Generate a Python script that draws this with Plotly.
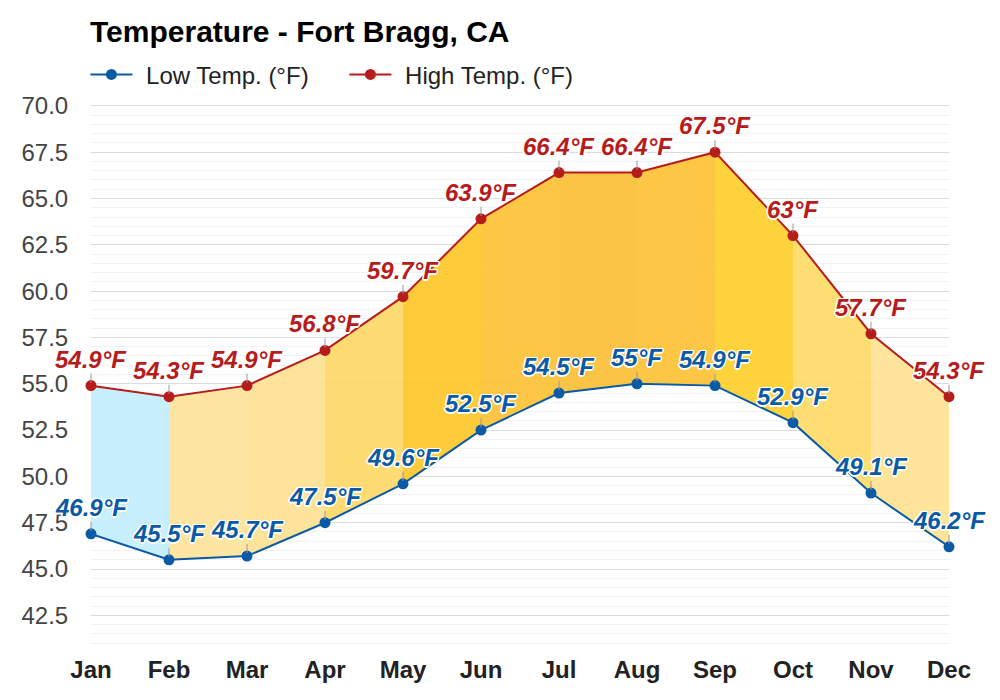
import plotly.graph_objects as go

months = ['Jan', 'Feb', 'Mar', 'Apr', 'May', 'Jun', 'Jul', 'Aug', 'Sep', 'Oct', 'Nov', 'Dec']
low_temp = [46.9, 45.5, 45.7, 47.5, 49.6, 52.5, 54.5, 55, 54.9, 52.9, 49.1, 46.2]
high_temp = [54.9, 54.3, 54.9, 56.8, 59.7, 63.9, 66.4, 66.4, 67.5, 63, 57.7, 54.3]
band_colors = ['#c4eefd', '#fee39a', '#fee193', '#fed968', '#fec82b', '#fdc336',
               '#fcc038', '#fdc336', '#fed02b', '#fedb68', '#fee393']

BLUE = '#0a5aa5'
RED = '#b71c1c'
FONT = 'Liberation Sans'
OUTLINE = '1.5px 0 0 #fff, -1.5px 0 0 #fff, 0 1.5px 0 #fff, 0 -1.5px 0 #fff, 1px 1px 0 #fff, -1px -1px 0 #fff, 1px -1px 0 #fff, -1px 1px 0 #fff'

fig = go.Figure()

# one coloured band per month
for i, color in enumerate(band_colors):
    fig.add_trace(go.Scatter(
        x=[months[i], months[i + 1], months[i + 1], months[i]],
        y=[high_temp[i], high_temp[i + 1], low_temp[i + 1], low_temp[i]],
        mode='lines', fill='toself', fillcolor=color, opacity=0.92,
        line=dict(width=0), showlegend=False, hoverinfo='skip'))

# leading spaces push the legend text away from the line sample
fig.add_trace(go.Scatter(x=months, y=low_temp, mode='lines+markers', name='\u00a0\u200aLow Temp. (°F)',
                         line=dict(color=BLUE, width=2), marker=dict(color=BLUE, size=11),
                         cliponaxis=False))
fig.add_trace(go.Scatter(x=months, y=high_temp, mode='lines+markers', name='\u00a0\u200aHigh Temp. (°F)',
                         line=dict(color=RED, width=2), marker=dict(color=RED, size=11),
                         cliponaxis=False))


def add_labels(values, color):
    for m, v in zip(months, values):
        fig.add_annotation(x=m, y=v, text=f'{v}°F', showarrow=True, arrowhead=0, arrowwidth=1,
                           arrowcolor='#999999', ax=0, ay=-12, standoff=3, yanchor='bottom',
                           borderpad=0,
                           font=dict(family=FONT, size=24, color=color, weight='bold',
                                     style='italic', shadow=OUTLINE))


add_labels(low_temp, BLUE)
add_labels(high_temp, RED)

# margins allow for the 8px page margin around the figure
fig.update_layout(
    width=1000,
    height=700,
    margin=dict(l=83, r=59, t=95.65, b=63.15),
    plot_bgcolor='white',
    paper_bgcolor='white',
    title=dict(text='<b>Temperature - Fort Bragg, CA</b>', x=0.082, xanchor='left', y=0.966,
               yanchor='middle', font=dict(family=FONT, size=30, color='#000000')),
    legend=dict(orientation='h', x=-0.0065, xanchor='left', y=1.0539, yanchor='middle', itemwidth=42,
                entrywidth=202, entrywidthmode='pixels',
                font=dict(family=FONT, size=24, color='#222222'), traceorder='normal'),
    xaxis=dict(range=[0, 11], showgrid=False, zeroline=False, ticks='outside', ticklen=3,
               tickcolor='rgba(0,0,0,0)', tickfont=dict(family=FONT, size=24, color='#222222', weight='bold')),
    # range a touch past 41 and 70 so the edge gridlines still draw
    yaxis=dict(range=[40.9, 70.1], tick0=40, dtick=2.5, tickformat='.1f', gridcolor='#dcdcdc', gridwidth=1,
               zeroline=False, ticks='outside', ticklen=17, tickcolor='rgba(0,0,0,0)',
               tickfont=dict(family=FONT, size=24, color='#444444'),
               minor=dict(dtick=0.5, tick0=40, showgrid=True, gridcolor='#f1f1f6', gridwidth=1)),
)

fig.write_html("out.html")
